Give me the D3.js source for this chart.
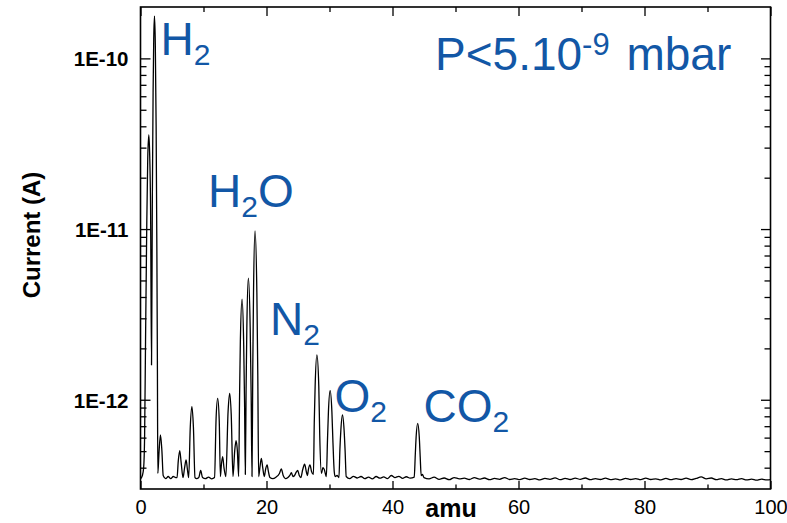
<!DOCTYPE html>
<html><head><meta charset="utf-8">
<script src="https://cdn.jsdelivr.net/npm/d3@7"></script>
<style>
html,body{margin:0;padding:0;background:#fff;}
svg{display:block;}
text{font-family:"Liberation Sans", Arial, Helvetica, sans-serif;}
</style>
</head><body>
<svg id="chart" width="787" height="523"></svg>
<script>
// ---- Data (amu, current in A) ----
const scanHydrogen = [
  [0.0,3.45e-13],[0.3,3.6e-13],[0.5,4.0e-13],[0.65,6.0e-13],[0.8,2.2e-12],[1.0,1.1e-11],
  [1.15,2.6e-11],[1.32,3.56e-11],[1.45,2.8e-11],[1.6,1.3e-11],[1.75,1.6e-12],[1.88,1.5e-11],
  [2.0,6.3e-11],[2.1,1.3e-10],[2.22,1.77e-10],[2.35,1.22e-10],[2.48,4.05e-11],[2.6,7.4e-12],
  [2.68,1.7e-12],[2.75,3.7e-13],[2.95,5.0e-13],[3.17,6.22e-13],[3.4,5.0e-13],[3.6,3.6e-13]
];
const scanLight = [
  [4.0,3.45e-13],[4.4,3.55e-13],[4.8,3.45e-13],[5.2,3.55e-13],[5.6,3.5e-13],[5.8,3.5e-13],
  [6.0,4.4e-13],[6.23,5.04e-13],[6.45,4.3e-13],[6.75,3.5e-13],[7.0,4.0e-13],[7.24,4.44e-13],
  [7.45,3.9e-13],[7.65,3.5e-13],[7.9,6.9e-13],[8.16,9.12e-13],[8.4,6.9e-13],[8.65,3.5e-13],
  [8.9,3.45e-13],[9.25,3.5e-13],[9.55,3.85e-13],[9.85,3.5e-13],[10.3,3.45e-13],[10.8,3.52e-13],
  [11.3,3.44e-13],[11.75,3.5e-13]
];
const scanWater = [
  [12.0,7.8e-13],[12.25,1.02e-12],[12.5,7.5e-13],[12.68,3.55e-13],[12.85,4.2e-13],[13.04,4.64e-13],
  [13.25,4.0e-13],[13.55,3.55e-13],[13.9,8.5e-13],[14.15,1.09e-12],[14.4,8.2e-13],[14.68,3.55e-13],
  [14.95,5.0e-13],[15.17,5.75e-13],[15.38,5.0e-13],[15.58,3.55e-13],[15.72,1.0e-12],[15.85,2.2e-12],
  [16.12,3.88e-12],[16.38,2.1e-12],[16.52,9.5e-13],[16.64,3.65e-13],[16.76,1.15e-12],[16.88,2.65e-12],
  [17.12,5.15e-12],[17.41,2.65e-12],[17.56,1.1e-12],[17.7,3.55e-13],[17.82,1.5e-12],[17.94,4.26e-12],
  [18.18,9.75e-12],[18.47,4.26e-12],[18.62,1.38e-12],[18.75,3.55e-13],[18.95,4.0e-13],[19.18,4.54e-13],
  [19.4,4.0e-13],[19.65,3.55e-13],[19.85,3.9e-13],[20.1,4.15e-13],[20.3,3.8e-13],[20.55,3.5e-13],
  [21.0,3.45e-13],[21.5,3.52e-13]
];
const scanAir = [
  [22.05,3.7e-13],[22.35,3.93e-13],[22.65,3.6e-13],[23.0,3.45e-13],[23.4,3.5e-13],[23.7,3.6e-13],
  [23.95,3.74e-13],[24.2,3.55e-13],[24.45,3.6e-13],[24.7,3.75e-13],[24.95,3.85e-13],[25.2,3.6e-13],
  [25.45,3.5e-13],[25.75,3.9e-13],[26.05,4.19e-13],[26.35,3.75e-13],[26.5,3.6e-13],[26.65,3.9e-13],
  [26.9,4.15e-13],[27.15,3.8e-13],[27.45,3.65e-13],[27.58,7.3e-13],[27.72,1.2e-12],[28.0,1.83e-12],
  [28.3,1.2e-12],[28.45,6.2e-13],[28.72,3.7e-13],[28.95,4.0e-13],[29.17,3.9e-13],[29.5,3.55e-13],
  [29.68,5.8e-13],[29.83,8.5e-13],[30.1,1.13e-12],[30.38,8.5e-13],[30.55,5.6e-13],[30.75,3.8e-13],
  [30.9,3.55e-13],[31.2,3.6e-13],[31.5,3.5e-13],[31.65,5.1e-13],[31.8,6.6e-13],[32.06,8.15e-13],
  [32.32,6.6e-13],[32.48,5.0e-13],[32.65,3.55e-13]
];
const scanCO2 = [
  [33.2,3.45e-13],[33.8,3.56e-13],[34.4,3.48e-13],[35.0,3.55e-13],[35.6,3.45e-13],[36.2,3.52e-13],
  [36.8,3.44e-13],[37.4,3.55e-13],[38.0,3.47e-13],[38.6,3.53e-13],[39.2,3.45e-13],[39.8,3.6e-13],
  [40.4,3.5e-13],[41.0,3.56e-13],[41.6,3.46e-13],[42.2,3.54e-13],[42.8,3.47e-13],[43.45,3.52e-13],
  [43.62,4.8e-13],[43.75,6.05e-13],[44.0,7.28e-13],[44.25,6.05e-13],[44.4,4.6e-13],[44.55,3.6e-13],
  [44.75,3.65e-13],[45.0,3.5e-13]
];
const scanHeavy = [
  [45.8,3.44e-13],[46.6,3.52e-13],[47.4,3.42e-13],[48.2,3.48e-13],[49.0,3.4e-13],[49.8,3.5e-13],
  [50.6,3.44e-13],[51.4,3.47e-13],[52.2,3.41e-13],[53.0,3.5e-13],[53.8,3.43e-13],[54.6,3.48e-13],
  [55.4,3.4e-13],[56.2,3.46e-13],[57.0,3.42e-13],[57.8,3.5e-13],[58.6,3.41e-13],[59.4,3.45e-13],
  [60.2,3.4e-13],[61.0,3.47e-13],[61.8,3.41e-13],[62.6,3.45e-13],[63.4,3.39e-13],[64.2,3.46e-13],
  [65.0,3.42e-13],[65.8,3.49e-13],[66.6,3.4e-13],[67.4,3.46e-13],[68.2,3.41e-13],[69.0,3.47e-13],
  [69.8,3.42e-13],[70.6,3.48e-13],[71.4,3.4e-13],[72.2,3.45e-13],[73.0,3.41e-13],[73.8,3.47e-13],
  [74.6,3.4e-13],[75.4,3.44e-13],[76.2,3.39e-13],[77.0,3.46e-13],[77.8,3.41e-13],[78.6,3.45e-13],
  [79.4,3.4e-13],[80.2,3.47e-13],[81.0,3.41e-13],[81.8,3.44e-13],[82.6,3.39e-13],[83.4,3.46e-13],
  [84.2,3.4e-13],[85.0,3.45e-13],[85.8,3.41e-13],[86.6,3.47e-13],[87.4,3.4e-13],[88.2,3.46e-13],
  [89.0,3.53e-13],[89.8,3.44e-13],[90.6,3.48e-13],[91.4,3.4e-13],[92.2,3.45e-13],[93.0,3.39e-13],
  [93.8,3.44e-13],[94.6,3.4e-13],[95.4,3.45e-13],[96.2,3.39e-13],[97.0,3.43e-13],[97.8,3.38e-13],
  [98.6,3.43e-13],[99.4,3.39e-13],[100.0,3.4e-13]
];

const xDomain = [0, 100];
const yDomain = [3e-13, 2e-10];
const xMajorTicks = [0, 20, 40, 60, 80, 100];
const xMinorTicks = [10, 30, 50, 70, 90];
const yMajorTicks = [1e-12, 1e-11, 1e-10];
const yMajorLabels = ["1E-12", "1E-11", "1E-10"];
const yMinorTicks = [4e-13,5e-13,6e-13,7e-13,8e-13,9e-13,
  2e-12,3e-12,4e-12,5e-12,6e-12,7e-12,8e-12,9e-12,
  2e-11,3e-11,4e-11,5e-11,6e-11,7e-11,8e-11,9e-11];
const xTitle = "amu";
const yTitle = "Current (A)";
const gasMain = ["H", "H", "N", "O", "CO"];
const gasSub  = ["2", "2", "2", "2", "2"];
const gasTail = ["", "O", "", "", ""];
const pressureText = ["P<5.10", "-9", " mbar"];

// ---- Layout ----
const svg = d3.select("#chart");
const plot = {left: 140.5, right: 770.5, top: 7, bottom: 489};
const blue = "#1257a6";
const x = d3.scaleLinear().domain(xDomain).range([plot.left, plot.right]);
const y = d3.scaleLog().domain(yDomain).range([plot.bottom, plot.top]);

function styleAxis(g, fs, weight) {
  g.select(".domain").remove();
  g.selectAll(".tick line").attr("stroke", "#000").attr("stroke-width", 1.3);
  g.selectAll(".tick text").attr("fill", "#000")
    .style("font-family", '"Liberation Sans", Arial, sans-serif')
    .style("font-size", fs + "px").style("font-weight", weight);
}

// bottom
svg.append("g").attr("transform", `translate(0,${plot.bottom})`)
  .call(d3.axisBottom(x).tickValues(xMajorTicks).tickSize(-8).tickPadding(11).tickFormat(d3.format("d")))
  .call(g => styleAxis(g, 20, "normal"));
svg.append("g").attr("transform", `translate(0,${plot.bottom})`)
  .call(d3.axisBottom(x).tickValues(xMinorTicks).tickSize(-4.5).tickFormat(""))
  .call(g => styleAxis(g, 20, "normal"));
// top
svg.append("g").attr("transform", `translate(0,${plot.top})`)
  .call(d3.axisTop(x).tickValues(xMajorTicks).tickSize(-9).tickFormat(""))
  .call(g => styleAxis(g, 20, "normal"));
svg.append("g").attr("transform", `translate(0,${plot.top})`)
  .call(d3.axisTop(x).tickValues(xMinorTicks).tickSize(-5).tickFormat(""))
  .call(g => styleAxis(g, 20, "normal"));
// left
svg.append("g").attr("transform", `translate(${plot.left},0)`)
  .call(d3.axisLeft(y).tickValues(yMajorTicks).tickSize(-10).tickPadding(12)
    .tickFormat((d, i) => yMajorLabels[i]))
  .call(g => styleAxis(g, 20.5, "bold"))
  .call(g => g.selectAll(".tick text").attr("dy", "0.36em"));
svg.append("g").attr("transform", `translate(${plot.left},0)`)
  .call(d3.axisLeft(y).tickValues(yMinorTicks).tickSize(-6).tickFormat(""))
  .call(g => styleAxis(g, 20, "normal"));
// right
svg.append("g").attr("transform", `translate(${plot.right},0)`)
  .call(d3.axisRight(y).tickValues(yMajorTicks).tickSize(-9.5).tickFormat(""))
  .call(g => styleAxis(g, 20, "normal"));
svg.append("g").attr("transform", `translate(${plot.right},0)`)
  .call(d3.axisRight(y).tickValues(yMinorTicks).tickSize(-6).tickFormat(""))
  .call(g => styleAxis(g, 20, "normal"));

// frame
svg.append("rect")
  .attr("x", plot.left).attr("y", plot.top)
  .attr("width", plot.right - plot.left).attr("height", plot.bottom - plot.top)
  .attr("fill", "none").attr("stroke", "#000").attr("stroke-width", 1.6);

// spectrum
const spectrum = [].concat(scanHydrogen, scanLight, scanWater, scanAir, scanCO2, scanHeavy);
const line = d3.line().x(d => x(d[0])).y(d => y(d[1])).curve(d3.curveMonotoneX);
svg.append("path").datum(spectrum)
  .attr("d", line).attr("fill", "none").attr("stroke", "#000")
  .attr("stroke-width", 1.3).attr("stroke-linejoin", "round");

// axis titles
svg.append("text").attr("x", 451).attr("y", 517).attr("text-anchor", "middle")
  .style("font-size", "25px").style("font-weight", "bold").attr("fill", "#000").text(xTitle);
svg.append("text").attr("transform", "translate(40,235) rotate(-90)").attr("text-anchor", "middle")
  .style("font-size", "24px").style("font-weight", "bold").attr("fill", "#000").text(yTitle);

// gas annotations
const labelPos = [[160.5, 55], [208, 207], [270, 335], [334.5, 412], [423.5, 422]];
gasMain.forEach((m, i) => {
  const t = svg.append("text").attr("x", labelPos[i][0]).attr("y", labelPos[i][1])
    .attr("fill", blue).style("font-size", "46px");
  t.append("tspan").text(m);
  t.append("tspan").attr("dy", 10).style("font-size", "30px").text(gasSub[i]);
  if (gasTail[i]) t.append("tspan").attr("dy", -10).style("font-size", "46px").text(gasTail[i]);
});

// pressure
const p = svg.append("text").attr("x", 435).attr("y", 70).attr("fill", blue).style("font-size", "46px");
p.append("tspan").text(pressureText[0]);
p.append("tspan").attr("dy", -15).style("font-size", "31px").text(pressureText[1]);
p.append("tspan").attr("dy", 15).attr("dx", 4).style("font-size", "46px").text(pressureText[2]);
</script>
</body></html>
